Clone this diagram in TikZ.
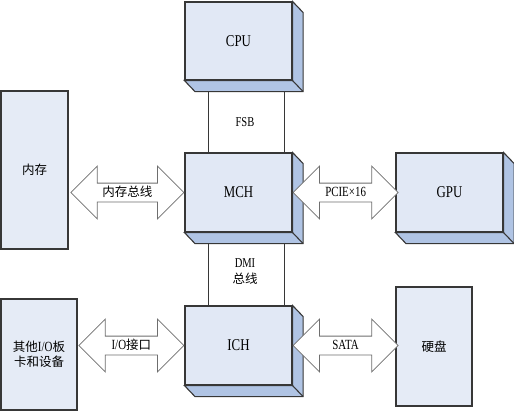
\documentclass[tikz,border=0pt]{standalone}
\usepackage{fontspec}
\setmainfont{Liberation Serif}[FakeStretch=0.78]
\newfontfamily\cjk{Noto Sans CJK SC}
\newcommand{\zh}[1]{{\cjk\fontsize{12.5}{15}\selectfont #1}}
\usetikzlibrary{calc}
\usetikzlibrary{positioning}
\usetikzlibrary{shapes.arrows}
\definecolor{frontblue}{RGB}{225,232,245}
\definecolor{sideblue}{RGB}{176,196,228}
\definecolor{flatblue}{RGB}{229,235,246}
\definecolor{edgegray}{RGB}{55,55,55}
\definecolor{arrowgray}{RGB}{110,110,110}

\newcommand{\Extrude}[1]{
\coordinate (#1NE) at ([shift={(10.5,11)}]#1.north east);
\coordinate (#1SE) at ([shift={(10.5,11)}]#1.south east);
\coordinate (#1SW) at ([shift={(10.5,11)}]#1.south west);
\draw[boxedge, fill=sideblue] (#1.north east)--(#1NE)--(#1SE)--(#1SW)
--(#1.south west)--(#1.south east)--cycle;
\draw[boxedge] (#1.south east)--(#1SE);
}

\begin{document}
\begin{tikzpicture}[x=1pt, y=-1pt,
block/.style={draw=edgegray, line width=1.1pt, fill=frontblue, minimum width=107pt,
  minimum height=79pt, inner sep=0, font=\fontsize{16.5}{18}\selectfont},
flatbox/.style={draw=edgegray, line width=1.1pt, fill=flatblue, inner sep=0,
  align=center, font=\fontsize{14}{15}\selectfont},
boxedge/.style={draw=edgegray, line width=1.1pt, line join=miter},
bus/.style={double arrow, draw=arrowgray, fill=white, line width=.8pt,
  double arrow head extend=17pt, inner xsep=0, inner ysep=3pt,
  text height=10pt, text depth=2pt, minimum height=105pt,
  font=\fontsize{14}{15}\selectfont},
wire/.style={draw=edgegray, line width=1pt},
buslabel/.style={align=center, inner sep=0, font=\fontsize{13.5}{16}\selectfont},
]
\useasboundingbox (0,0) rectangle (514,412);

%%%%%%%%%%%%%%%%%%%%%%%% BLOCKS %%%%%%%%%%%%%%%%%%%%%%%%%%%
\node[block, minimum height=78pt] (CPU) at (238.5,41) {CPU};
\node[block] (MCH) at (238.5,192.5) {MCH};
\node[block] (ICH) at (238.5,345.5) {ICH};
\node[block] (GPU) at (449.5,192.5) {GPU};
\Extrude{CPU}
\Extrude{MCH}
\Extrude{ICH}
\Extrude{GPU}

\node[flatbox, minimum width=67pt, minimum height=158pt] (Mem) at (34.5,170) {\zh{内存}};
\node[flatbox, minimum width=76pt, minimum height=111pt] (IO) at (39,354.5)
  {\zh{其他}I/O\zh{板}\\\zh{卡和设备}};
\node[flatbox, minimum width=76pt, minimum height=119pt] (Disk) at (434,346.5) {\zh{硬盘}};

%%%%%%%%%%%%%%%%%%%%%%%% FSB / DMI %%%%%%%%%%%%%%%%%%%%%%%%%%%
\draw[wire] ([shift={(-30.5,11)}]CPU.south)--([xshift=-30.5]MCH.north);
\draw[wire] ([shift={(45.5,11)}]CPU.south)--([xshift=45.5]MCH.north);
\draw[wire] ([shift={(-30.5,11)}]MCH.south)--([xshift=-30.5]ICH.north);
\draw[wire] ([shift={(45.5,11)}]MCH.south)--([xshift=45.5]ICH.north);
\node[buslabel] (FSB) at (245,122) {FSB};
\node[buslabel] (DMI) at (245,272) {DMI\\\zh{总线}};

%%%%%%%%%%%%%%%%%%%%%%%% BUS ARROWS %%%%%%%%%%%%%%%%%%%%%%%%%%%
\node[bus, minimum height=113pt, left=0pt of MCH] (MemBus) {\zh{内存总线}};
\node[bus, right=0pt of MCH] (PCIE) {PCIE×16};
\node[bus, left=0pt of ICH] (IOPort) {I/O\zh{接口}};
\node[bus, right=0pt of ICH] (SATA) {SATA};
\end{tikzpicture}
\end{document}
